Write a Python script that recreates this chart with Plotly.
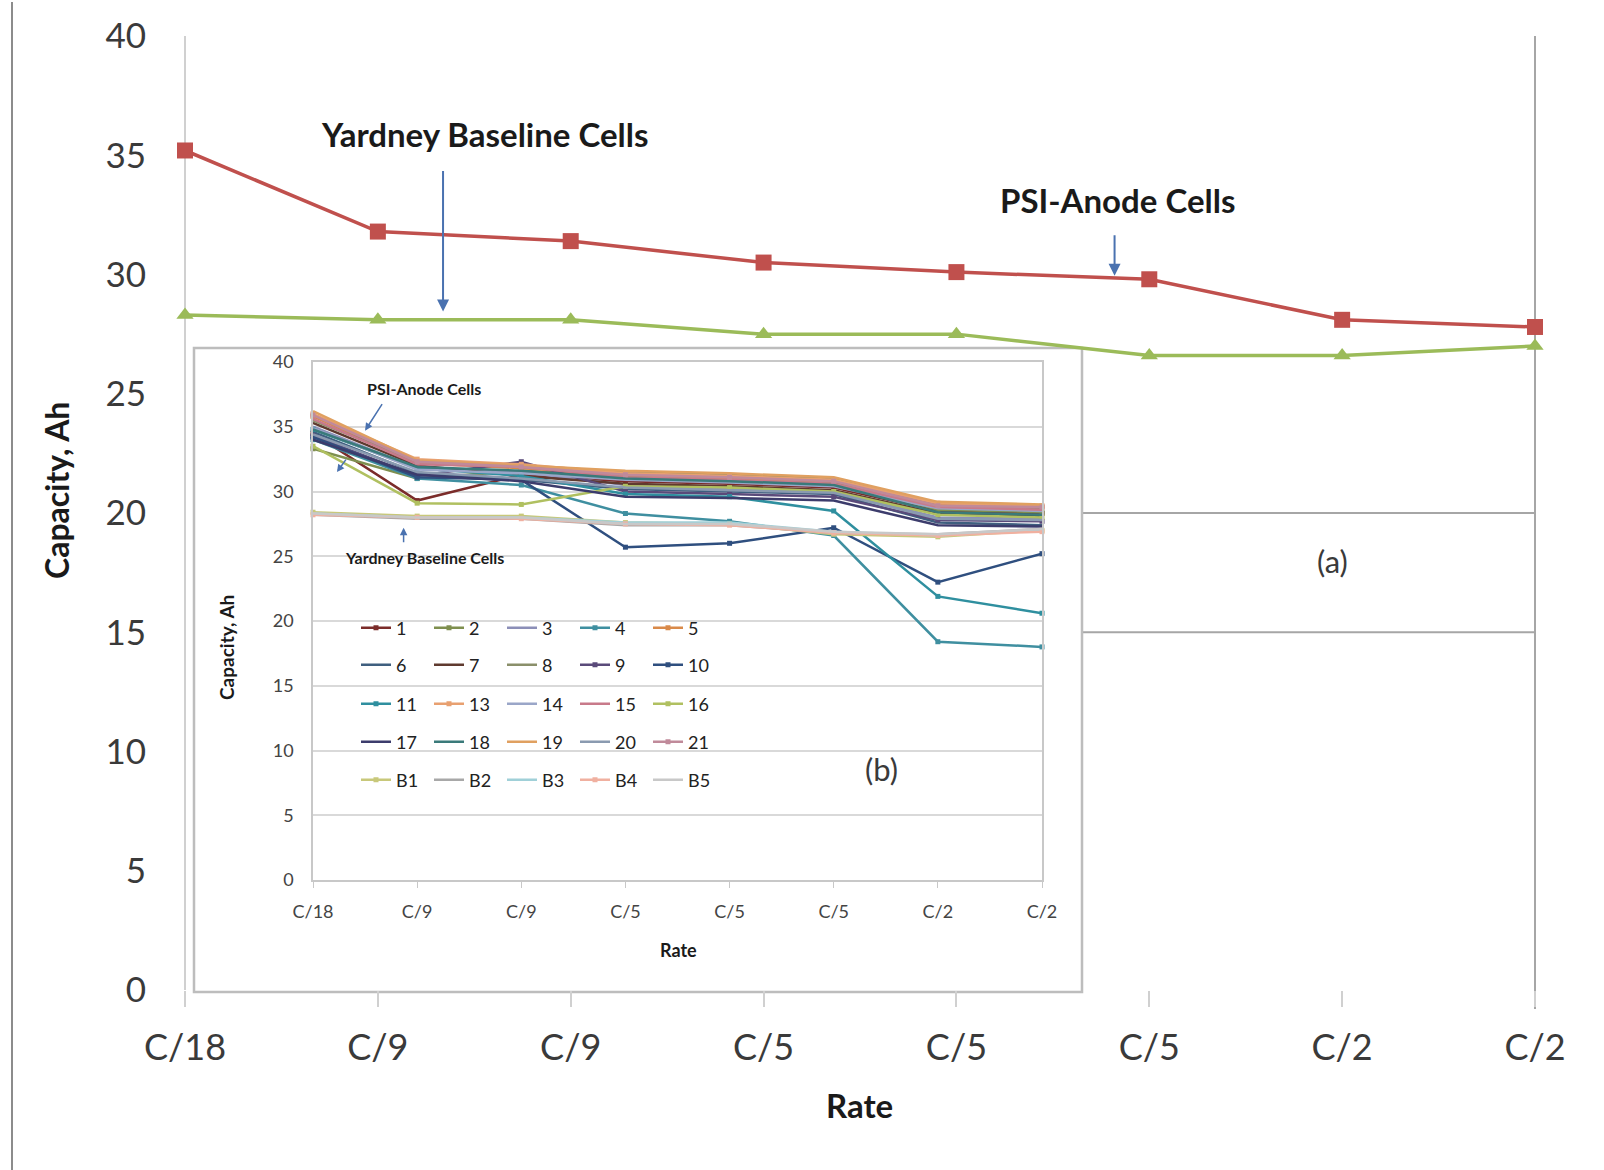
import plotly.graph_objects as go

# ---------------- data ----------------
rate_labels = ["C/18", "C/9", "C/9", "C/5", "C/5", "C/5", "C/2", "C/2"]
x_idx = list(range(len(rate_labels)))

psi_anode = [35.2, 31.8, 31.4, 30.5, 30.1, 29.8, 28.1, 27.8]
yardney_baseline = [28.3, 28.1, 28.1, 27.5, 27.5, 26.6, 26.6, 27.0]

cell_names = ["1", "2", "3", "4", "5",
              "6", "7", "8", "9", "10",
              "11", "13", "14", "15", "16",
              "17", "18", "19", "20", "21",
              "B1", "B2", "B3", "B4", "B5"]

cell_values = [
    [34.5, 29.3, 31.3, 30.8, 30.6, 30.3, 28.5, 28.3],   # 1
    [33.3, 31.0, 31.6, 31.2, 31.0, 30.7, 28.6, 28.4],   # 2
    [35.0, 31.8, 31.5, 30.5, 30.2, 30.0, 28.0, 27.9],   # 3
    [34.0, 31.0, 30.5, 28.3, 27.7, 26.6, 18.4, 18.0],   # 4
    [35.8, 32.2, 31.8, 31.3, 31.0, 30.8, 29.0, 28.8],   # 5
    [34.6, 31.4, 30.9, 30.2, 30.0, 29.8, 27.6, 27.4],   # 6
    [35.3, 32.0, 31.2, 30.6, 30.4, 30.1, 28.3, 28.1],   # 7
    [35.5, 32.3, 32.0, 31.5, 31.3, 31.0, 28.9, 28.7],   # 8
    [34.3, 31.2, 32.3, 30.0, 29.8, 29.6, 27.8, 27.7],   # 9
    [34.2, 31.1, 30.9, 25.7, 26.0, 27.2, 23.0, 25.2],   # 10
    [34.8, 31.8, 31.2, 29.8, 29.6, 28.5, 21.9, 20.6],   # 11
    [36.0, 32.5, 32.1, 31.4, 31.2, 30.9, 29.1, 28.9],   # 13
    [34.9, 31.7, 31.4, 30.9, 30.7, 30.4, 28.7, 28.5],   # 14
    [35.6, 32.1, 31.9, 31.1, 30.9, 30.6, 28.8, 28.6],   # 15
    [33.5, 29.1, 29.0, 30.4, 30.3, 30.0, 28.2, 28.0],   # 16
    [34.0, 31.3, 30.8, 29.6, 29.5, 29.3, 27.4, 27.3],   # 17
    [34.8, 31.9, 31.6, 31.0, 30.8, 30.5, 28.4, 28.2],   # 18
    [36.2, 32.4, 32.0, 31.6, 31.4, 31.1, 29.2, 29.0],   # 19
    [34.4, 31.5, 31.0, 30.3, 30.1, 29.9, 27.9, 27.8],   # 20
    [35.9, 32.3, 31.9, 31.3, 31.1, 30.8, 28.9, 28.8],   # 21
    [28.4, 28.1, 28.1, 27.6, 27.5, 26.7, 26.5, 27.0],   # B1
    [28.2, 27.9, 27.9, 27.4, 27.4, 26.8, 26.7, 27.1],   # B2
    [28.3, 28.0, 28.0, 27.6, 27.6, 26.9, 26.6, 27.0],   # B3
    [28.2, 28.0, 27.9, 27.5, 27.4, 26.8, 26.6, 26.9],   # B4
    [28.3, 28.0, 28.0, 27.5, 27.5, 26.9, 26.7, 27.1],   # B5
]

cell_colors = ["#7b2c2a", "#7f8f4f", "#8c8fb8", "#3f8fa0", "#d98a4a",
               "#3f5f7f", "#5f3a2f", "#8a8f6a", "#5a4a7a", "#2f4f7f",
               "#2f8f9f", "#e8a070", "#9aa6c8", "#c87a8a", "#b0c060",
               "#3c3c6c", "#3a7a7a", "#e0a060", "#8a9ab0", "#c08a9a",
               "#c8c87a", "#a8a8a8", "#a0d0d8", "#f0b0a0", "#c8c8c8"]
cell_markers = [True, True, False, True, True,
                False, False, False, True, True,
                True, True, False, False, True,
                False, False, False, False, True,
                True, False, False, True, False]

y_ticks = [0, 5, 10, 15, 20, 25, 30, 35, 40]

# ---------------- geometry helpers (pixels -> paper) ----------------
W, H = 1604, 1170
L, R, T, B = 185, 1535, 36, 990
PW, PH = R - L, B - T


def px(x):
    return (x - L) / PW


def py(y):
    return (B - y) / PH


FONT = "Lato, 'Open Sans', sans-serif"
TXT = "#3a3a3a"

fig = go.Figure()

# ---------------- main chart ----------------
fig.add_trace(go.Scatter(
    x=x_idx, y=psi_anode, mode="lines+markers", name="PSI-Anode Cells",
    line=dict(color="#c0504d", width=3.5),
    marker=dict(symbol="square", size=16, color="#c0504d"),
    cliponaxis=False, showlegend=False))
fig.add_trace(go.Scatter(
    x=x_idx, y=yardney_baseline, mode="lines+markers", name="Yardney Baseline Cells",
    line=dict(color="#9bbb59", width=3.5),
    marker=dict(symbol="triangle-up", size=15, color="#9bbb59"),
    cliponaxis=False, showlegend=False))

# ---------------- inset chart ----------------
legend_rows = ["legend", "legend2", "legend3", "legend4", "legend5"]
for i, (name, vals, col, mk) in enumerate(zip(cell_names, cell_values, cell_colors, cell_markers)):
    fig.add_trace(go.Scatter(
        x=x_idx, y=vals, xaxis="x2", yaxis="y2",
        mode="lines+markers" if mk else "lines", name=name,
        line=dict(color=col, width=2.5),
        marker=dict(symbol="square" if mk else "circle", size=5, color=col),
        cliponaxis=False, showlegend=True, legend=legend_rows[i // 5]))

shapes = []
# outer left frame line
shapes.append(dict(type="line", xref="paper", yref="paper", x0=px(12), x1=px(12),
                   y0=py(2), y1=py(1170), line=dict(color="#8c8c8c", width=2), layer="above"))
# main left axis line & right edge line
shapes.append(dict(type="line", xref="paper", yref="paper", x0=0, x1=0, y0=0, y1=1,
                   line=dict(color="#d0d0d0", width=2), layer="below"))
shapes.append(dict(type="line", xref="paper", yref="paper", x0=1, x1=1, y0=-0.02, y1=1,
                   line=dict(color="#a6a6a6", width=2), layer="below"))
# visible main gridlines at 20 and 15 (right of the inset)
for gv in (20, 15):
    shapes.append(dict(type="line", xref="paper", yref="y", x0=px(1082), x1=1, y0=gv, y1=gv,
                       line=dict(color="#a6a6a6", width=2), layer="below"))
# inset frame
shapes.append(dict(type="rect", xref="paper", yref="paper", x0=px(194), x1=px(1082),
                   y0=py(992), y1=py(348), fillcolor="white",
                   line=dict(color="#bdbdbd", width=2.5), layer="below"))


def txt(text, x, y, size, color="#1a1a1a", angle=0):
    return dict(text=text, xref="paper", yref="paper", x=px(x), y=py(y),
                xanchor="center", yanchor="middle", textangle=angle,
                showarrow=False, font=dict(size=size, color=color, family=FONT))


def arrow(xref, yref, x, y, ax, ay, width=2, size=1.2):
    return dict(text="", xref=xref, yref=yref, x=x, y=y, ax=ax, ay=ay,
                showarrow=True, arrowhead=2, arrowsize=size, arrowwidth=width,
                arrowcolor="#4a72b0")


annotations = [
    txt("<b>Capacity, Ah</b>", 56, 491, 32, angle=-90),
    txt("<b>Rate</b>", 859, 1105, 33),
    txt("<b>Yardney Baseline Cells</b>", 485, 134, 33),
    txt("<b>PSI-Anode Cells</b>", 1117, 200, 33),
    arrow("x", "y", 1.338, 28.45, 0, -142),
    arrow("x", "y", 4.82, 29.95, 0, -42),
    txt("(a)", 1332, 561, 31, TXT),
    txt("(b)", 882, 769, 31, TXT),
    # inset texts
    txt("<b>Capacity, Ah</b>", 226, 648, 19, angle=-90),
    txt("<b>Rate</b>", 678, 950, 18),
    txt("<b>PSI-Anode Cells</b>", 424, 388, 16),
    txt("<b>Yardney Baseline Cells</b>", 424, 557, 16),
    arrow("x2", "y2", 0.50, 34.7, 18, -28, 1.5, 1),
    arrow("x2", "y2", 0.23, 31.5, 10, -14, 1.5, 1),
    arrow("x2", "y2", 0.87, 27.2, 0, 16, 1.5, 1),
]

legend_common = dict(orientation="h", xanchor="left", yanchor="middle",
                     bgcolor="rgba(0,0,0,0)", borderwidth=0,
                     font=dict(size=18, color="#222", family=FONT),
                     entrywidth=28, entrywidthmode="pixels", itemwidth=30,
                     traceorder="normal")
row_y = [628, 665, 704, 742, 780]
legend_layouts = {}
for k, ly in zip(legend_rows, row_y):
    legend_layouts[k] = dict(legend_common, x=px(356), y=py(ly))

fig.update_layout(
    width=W, height=H, autosize=False,
    margin=dict(l=L, r=W - R, t=T, b=H - B, pad=0),
    paper_bgcolor="white", plot_bgcolor="rgba(0,0,0,0)",
    font=dict(family=FONT, color=TXT),
    xaxis=dict(range=[0, 7], tickvals=x_idx, ticktext=rate_labels, showgrid=False,
               zeroline=False, showline=False, ticks="outside", ticklen=16,
               tickcolor="#d0d0d0", tickwidth=2, ticklabelstandoff=10,
               tickfont=dict(size=36, color=TXT, family=FONT)),
    yaxis=dict(range=[0, 40], tickvals=y_ticks, showgrid=False, zeroline=False,
               showline=False, ticks="", ticklabelstandoff=38,
               tickfont=dict(size=35, color=TXT, family=FONT)),
    xaxis2=dict(domain=[px(313), px(1042)], anchor="y2", range=[0, 7], tickvals=x_idx,
                ticktext=rate_labels, showgrid=False, zeroline=False, showline=True,
                linecolor="#c8c8c8", linewidth=1.5, mirror=True,
                ticks="outside", ticklen=6, tickcolor="#c8c8c8",
                ticklabelstandoff=9, tickfont=dict(size=18, color="#444", family=FONT)),
    yaxis2=dict(domain=[py(880), py(362)], anchor="x2", range=[0, 40], tickvals=y_ticks,
                showgrid=True, gridcolor="#d9d9d9", gridwidth=1.5, zeroline=False,
                showline=True, linecolor="#c8c8c8", linewidth=1.5, mirror=True,
                ticks="", ticklabelstandoff=14,
                tickfont=dict(size=18, color="#444", family=FONT)),
    shapes=shapes,
    annotations=annotations,
    **legend_layouts,
)

fig.write_html("out.html")
